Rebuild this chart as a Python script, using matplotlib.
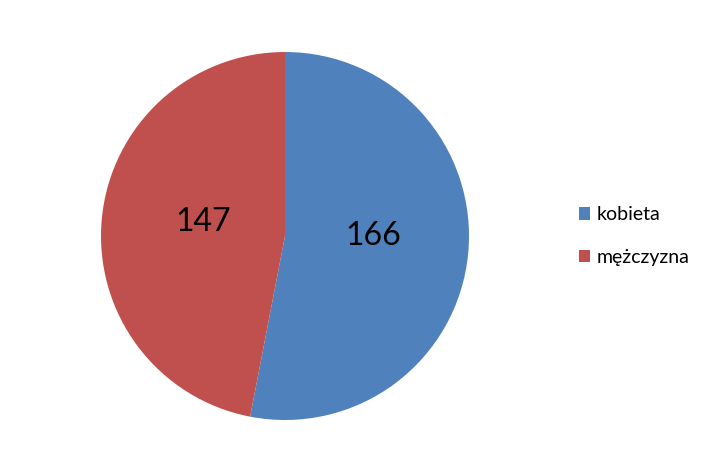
import matplotlib.pyplot as plt

# Data
labels = ['kobieta', 'mężczyzna']
values = [166, 147]
colors = ['#4F81BD', '#C0504D']

plt.rcParams['font.family'] = ['Lato', 'DejaVu Sans']

fig = plt.figure(figsize=(7.09, 4.72), dpi=100, facecolor='white')
# pie centre at (285, 236) px, radius 184 px
ax = fig.add_axes([(285 - 184) / 709, (472 - 236 - 184) / 472, 368 / 709, 368 / 472])

wedges, texts, autotexts = ax.pie(
    values, colors=colors, startangle=90, counterclock=False,
    autopct=lambda p: f'{p * sum(values) / 100:.0f}', pctdistance=0.47,
    textprops=dict(fontsize=23, color='black'), radius=1,
)
# nudge labels to the positions used in the reference
autotexts[0].set_position((0.478, 0.0))
autotexts[1].set_position((-0.446, 0.075))
ax.set_xlim(-1, 1)
ax.set_ylim(-1, 1)
ax.set_aspect('equal')

fig.legend(wedges, labels, loc='center left',
           bbox_to_anchor=(561 / 709, 236 / 472), frameon=False,
           fontsize=14, handlelength=0.6, handleheight=0.6,
           handletextpad=0.35, labelspacing=1.3)

plt.savefig('out.png', dpi=100, facecolor='white')
